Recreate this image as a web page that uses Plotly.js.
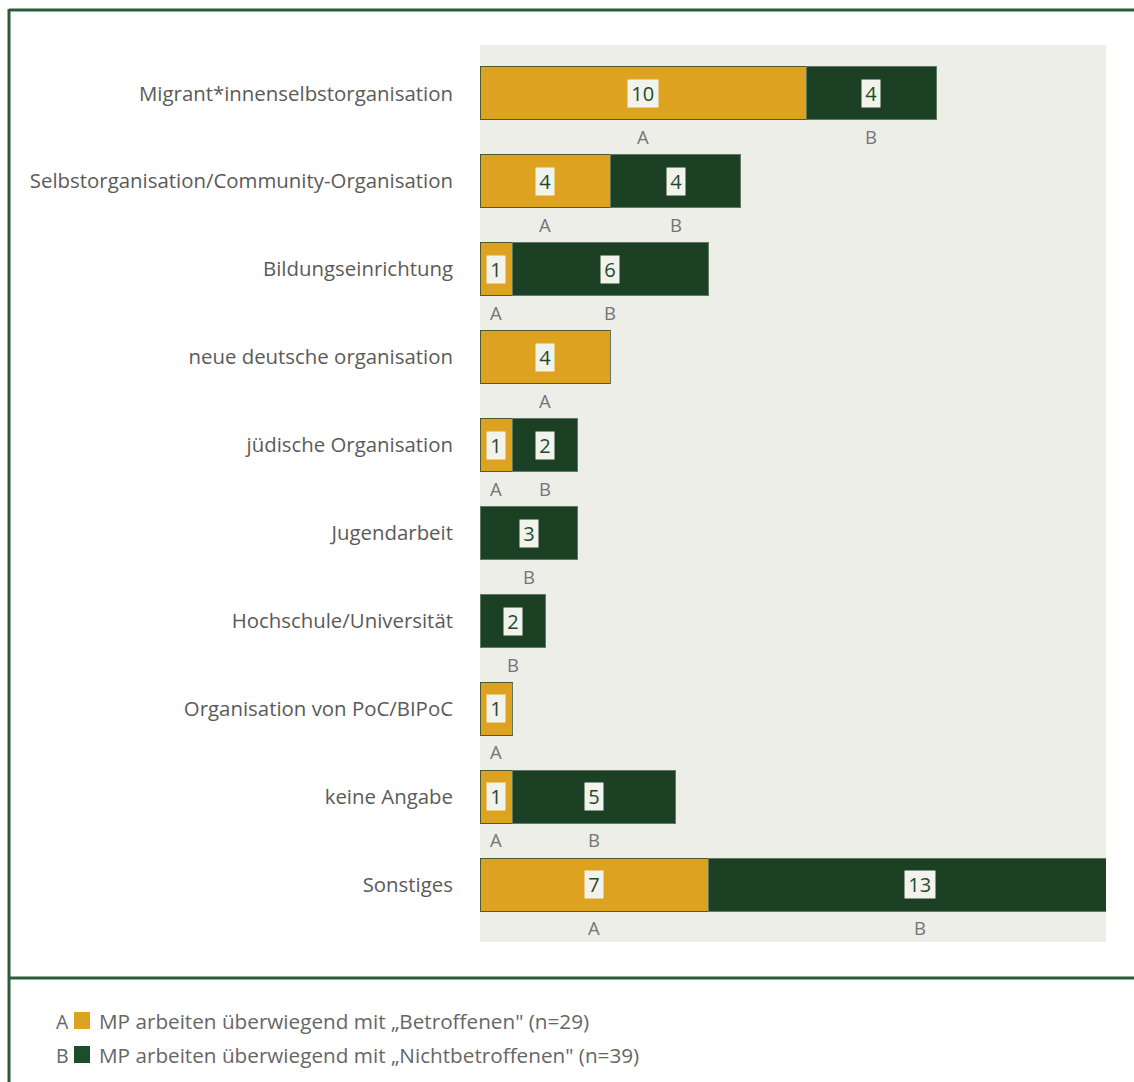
<!DOCTYPE html>
<html>
<head>
<meta charset="utf-8">
<script src="https://cdn.plot.ly/plotly-3.0.1.min.js"></script>
<style>
  html, body { margin: 0; padding: 0; background: #ffffff; }
  #chart { width: 1134px; height: 1082px; }
</style>
</head>
<body>
<div id="chart"></div>
<script>
const categories = [
  "Migrant*innenselbstorganisation",
  "Selbstorganisation/Community-Organisation",
  "Bildungseinrichtung",
  "neue deutsche organisation",
  "jüdische Organisation",
  "Jugendarbeit",
  "Hochschule/Universität",
  "Organisation von PoC/BIPoC",
  "keine Angabe",
  "Sonstiges"
];
const valuesA = [10, 4, 1, 4, 1, 0, 0, 1, 1, 7];
const valuesB = [4, 4, 6, 0, 2, 3, 2, 0, 5, 13];
const seriesLetters = ["A", "B"];
const legendTexts = [
  "MP arbeiten überwiegend mit „Betroffenen\" (n=29)",
  "MP arbeiten überwiegend mit „Nichtbetroffenen\" (n=39)"
];

const gold = "#DDA21F";
const green = "#1B4023";
const frame = "#2B5C3A";
const grey = "#666666";
const fontFam = "'Open Sans', 'Noto Sans', sans-serif";

const traces = [
  {
    type: "bar", orientation: "h", name: seriesLetters[0],
    y: categories, x: valuesA,
    marker: { color: gold, line: { color: "#4f5a2f", width: 1 } },
    width: 0.6, hoverinfo: "x+y", showlegend: false
  },
  {
    type: "bar", orientation: "h", name: seriesLetters[1],
    y: categories, x: valuesB,
    marker: { color: green, line: { color: "#5f7a62", width: 1 } },
    width: 0.6, hoverinfo: "x+y", showlegend: false
  }
];

const annotations = [];
categories.forEach((c, i) => {
  const segs = [[valuesA[i], 0, seriesLetters[0]], [valuesB[i], valuesA[i], seriesLetters[1]]];
  segs.forEach(([v, start, letter]) => {
    if (v <= 0) return;
    const mid = start + v / 2;
    annotations.push({
      x: mid, y: c, xref: "x", yref: "y", text: "\u2009" + String(v) + "\u2009", showarrow: false,
      font: { family: fontFam, size: 20, color: "#1f4a2a" },
      bgcolor: "#f3f3ee", borderpad: 0, xanchor: "center", yanchor: "middle"
    });
    annotations.push({
      x: mid, y: c, xref: "x", yref: "y", text: letter, showarrow: false,
      font: { family: fontFam, size: 18.5, color: "#757575" },
      xanchor: "center", yanchor: "middle", yshift: -43
    });
  });
});

// legend (custom)
const px2x = px => (px - 480) / 626;
const py2y = py => (942 - py) / 897;
const legendRows = [1021, 1055];
const legendColors = [gold, "#1E4D2B"];
const shapes = [];
legendRows.forEach((row, k) => {
  annotations.push({
    x: px2x(54), y: py2y(row), xref: "paper", yref: "paper", text: seriesLetters[k],
    showarrow: false, xanchor: "left", yanchor: "middle",
    font: { family: fontFam, size: 19.5, color: grey }
  });
  annotations.push({
    x: px2x(97), y: py2y(row), xref: "paper", yref: "paper", text: legendTexts[k],
    showarrow: false, xanchor: "left", yanchor: "middle",
    font: { family: fontFam, size: 20.7, color: grey }
  });
  shapes.push({
    type: "rect", xref: "paper", yref: "paper",
    x0: px2x(74), x1: px2x(90), y0: py2y(row - 9), y1: py2y(row + 8),
    fillcolor: legendColors[k], line: { width: 0 }
  });
});
// frame lines
shapes.push({ type: "line", xref: "paper", yref: "paper", x0: px2x(9), x1: px2x(1140), y0: py2y(10), y1: py2y(10), line: { color: frame, width: 3 } });
shapes.push({ type: "line", xref: "paper", yref: "paper", x0: px2x(9), x1: px2x(9), y0: py2y(9), y1: py2y(1090), line: { color: frame, width: 3 } });
shapes.push({ type: "line", xref: "paper", yref: "paper", x0: px2x(9), x1: px2x(1140), y0: py2y(978), y1: py2y(978), line: { color: frame, width: 3 } });

const layout = {
  width: 1134, height: 1082,
  margin: { l: 480, r: 28, t: 45, b: 140, pad: 0 },
  paper_bgcolor: "#ffffff",
  plot_bgcolor: "#eeeee9",
  barmode: "stack",
  xaxis: { range: [0, 19.2], showgrid: false, zeroline: false, showticklabels: false, showline: false, fixedrange: true },
  yaxis: {
    type: "category", categoryorder: "array", categoryarray: categories,
    range: [9.65, -0.55], showgrid: false, zeroline: false, showline: false,
    ticks: "", ticklabelstandoff: 26,
    tickfont: { family: fontFam, size: 20.4, color: "#5a5a5a" }, fixedrange: true
  },
  annotations: annotations,
  shapes: shapes,
  font: { family: fontFam }
};

Plotly.newPlot("chart", traces, layout, { displayModeBar: false, staticPlot: true });
</script>
</body>
</html>
